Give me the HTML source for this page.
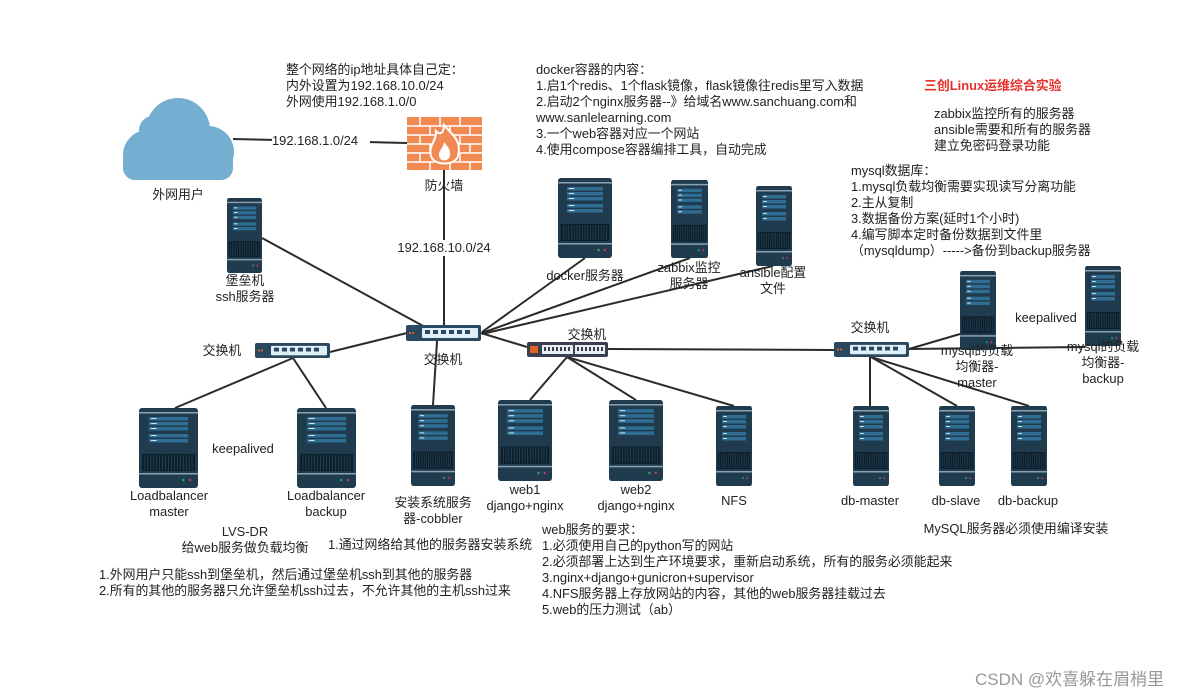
<!DOCTYPE html>
<html><head><meta charset="utf-8"><style>
html,body{margin:0;padding:0;background:#fff;}
svg{display:block;}
text{font-family:"Liberation Sans","Noto Sans CJK SC",sans-serif;font-size:12.9px;fill:#222;}
.c{text-anchor:middle;}
</style></head><body>
<svg width="1202" height="698" viewBox="0 0 1202 698" xmlns="http://www.w3.org/2000/svg">
<defs>
<symbol id="srv" viewBox="0 0 60 80" preserveAspectRatio="none">
<rect x="0" y="0" width="60" height="80" rx="3" fill="#1f3b4d"/>
<rect x="0" y="4" width="60" height="1.5" fill="#8aa3b2"/>
<rect x="10" y="9" width="40" height="3.5" fill="#2f6d93"/>
<rect x="10" y="14" width="40" height="3.5" fill="#2f6d93"/>
<rect x="10" y="19" width="40" height="3.5" fill="#2f6d93"/>
<rect x="10" y="26" width="40" height="3.5" fill="#2f6d93"/>
<rect x="10" y="31" width="40" height="3.5" fill="#2f6d93"/>
<g fill="#cfe3ef"><rect x="12" y="10" width="6" height="1"/><rect x="12" y="15" width="6" height="1"/><rect x="12" y="20" width="6" height="1"/><rect x="12" y="27" width="6" height="1"/><rect x="12" y="32" width="6" height="1"/></g>
<rect x="3" y="46" width="54" height="17" fill="#0d1f2b"/>
<g stroke="#2a4a5e" stroke-width="0.8"><path d="M6 47V62M9 47V62M12 47V62M15 47V62M18 47V62M21 47V62M24 47V62M27 47V62M30 47V62M33 47V62M36 47V62M39 47V62M42 47V62M45 47V62M48 47V62M51 47V62M54 47V62"/></g>
<rect x="0" y="65" width="60" height="1.5" fill="#8aa3b2"/>
<circle cx="45" cy="72" r="1.3" fill="#2ea56a"/><circle cx="52" cy="72" r="1.3" fill="#c23b5a"/>
</symbol>
<symbol id="sw" viewBox="0 0 75 16" preserveAspectRatio="none">
<rect x="0" y="0" width="75" height="16" rx="2" fill="#2a4860"/>
<rect x="3" y="7" width="2" height="2" fill="#e0612a"/><rect x="6" y="7" width="2" height="2" fill="#e0612a"/>
<rect x="16" y="3" width="56" height="10" rx="1" fill="#dfeef7"/>
<g fill="#2a4860"><rect x="19" y="5" width="5" height="4"/><rect x="27" y="5" width="5" height="4"/><rect x="35" y="5" width="5" height="4"/><rect x="43" y="5" width="5" height="4"/><rect x="51" y="5" width="5" height="4"/><rect x="59" y="5" width="5" height="4"/></g>
</symbol>
<symbol id="sw2" viewBox="0 0 81 15" preserveAspectRatio="none">
<rect x="0" y="0" width="81" height="15" rx="2" fill="#3a3f4e"/>
<rect x="3" y="4" width="8" height="7" fill="#e0612a"/>
<rect x="15" y="3" width="31" height="9" fill="#e8eef2"/><rect x="48" y="3" width="30" height="9" fill="#e8eef2"/>
<g fill="#3a3f4e"><rect x="17" y="5" width="2" height="4"/><rect x="21" y="5" width="2" height="4"/><rect x="25" y="5" width="2" height="4"/><rect x="29" y="5" width="2" height="4"/><rect x="33" y="5" width="2" height="4"/><rect x="37" y="5" width="2" height="4"/><rect x="41" y="5" width="2" height="4"/>
<rect x="50" y="5" width="2" height="4"/><rect x="54" y="5" width="2" height="4"/><rect x="58" y="5" width="2" height="4"/><rect x="62" y="5" width="2" height="4"/><rect x="66" y="5" width="2" height="4"/><rect x="70" y="5" width="2" height="4"/><rect x="74" y="5" width="2" height="4"/></g>
</symbol>
</defs>

<g stroke="#2b2b2b" stroke-width="2" fill="none">
<path d="M233 139L407 143"/>
<path d="M444 170V325"/>
<path d="M262 238L425 327"/>
<path d="M585 258L482 332"/>
<path d="M690 258L482 333"/>
<path d="M773 266L482 334"/>
<path d="M407 333L330 352"/>
<path d="M481 333L527 347"/>
<path d="M437 341L433 405"/>
<path d="M293 358L175 408"/>
<path d="M293 358L326 408"/>
<path d="M567 357L530 400"/>
<path d="M567 357L636 400"/>
<path d="M567 357L734 406"/>
<path d="M608 349L834 350"/>
<path d="M870 357V406"/>
<path d="M871 357L957 406"/>
<path d="M871 357L1029 406"/>
<path d="M909 349L960 334"/>
<path d="M909 349L1085 347"/>
</g>

<g fill="#74aed0">
<circle cx="148" cy="155" r="25"/><circle cx="178" cy="130" r="32"/><circle cx="208" cy="152" r="26"/><circle cx="153" cy="130" r="14"/>
<rect x="123" y="150" width="110" height="30" rx="12"/>
</g>
<text class="c" x="178" y="199">外网用户</text>

<rect x="272" y="132" width="98" height="16" fill="#fff"/>
<text x="272" y="145">192.168.1.0/24</text>

<rect x="407" y="117" width="75" height="53" fill="#f08a52"/>
<g stroke="#fff" stroke-width="1.5"><path d="M407 126H482M407 135H482M407 144H482M407 153H482M407 162H482"/>
<path d="M420 117V126M440 117V126M460 117V126M430 126V135M450 126V135M470 126V135M420 135V144M460 135V144M430 144V153M470 144V153M420 153V162M460 153V162M430 162V170M450 162V170M470 162V170"/></g>
<path d="M444 125C452 135 462 140 458 156C455 166 434 166 431 156C428 146 437 140 436 131C441 136 444 132 444 125Z" fill="#f08a52" stroke="#fff" stroke-width="2"/>
<path d="M444 142C449 148 452 152 449 158C446 162 440 161 439 156C438 151 443 149 444 142Z" fill="#fff"/>
<text class="c" x="444" y="190">防火墙</text>
<rect x="398" y="240" width="92" height="16" fill="#fff"/>
<text class="c" x="444" y="252">192.168.10.0/24</text>

<use href="#srv" x="227" y="198" width="35" height="75"/>
<use href="#srv" x="558" y="178" width="54" height="80"/>
<use href="#srv" x="671" y="180" width="37" height="78"/>
<use href="#srv" x="756" y="186" width="36" height="80"/>
<use href="#srv" x="139" y="408" width="59" height="80"/>
<use href="#srv" x="297" y="408" width="59" height="80"/>
<use href="#srv" x="411" y="405" width="44" height="81"/>
<use href="#srv" x="498" y="400" width="54" height="81"/>
<use href="#srv" x="609" y="400" width="54" height="81"/>
<use href="#srv" x="716" y="406" width="36" height="80"/>
<use href="#srv" x="853" y="406" width="36" height="80"/>
<use href="#srv" x="939" y="406" width="36" height="80"/>
<use href="#srv" x="1011" y="406" width="36" height="80"/>
<use href="#srv" x="960" y="271" width="36" height="79"/>
<use href="#srv" x="1085" y="266" width="36" height="80"/>

<use href="#sw" x="406" y="325" width="75" height="16"/>
<use href="#sw" x="255" y="343" width="75" height="15"/>
<use href="#sw2" x="527" y="342" width="81" height="15"/>
<use href="#sw" x="834" y="342" width="75" height="15"/>

<text class="c" x="245" y="285">堡垒机</text>
<text class="c" x="245" y="301">ssh服务器</text>
<text class="c" x="443" y="364">交换机</text>
<text class="c" x="222" y="355">交换机</text>
<text class="c" x="587" y="339">交换机</text>
<text class="c" x="870" y="332">交换机</text>
<text class="c" x="585" y="280">docker服务器</text>
<text class="c" x="689" y="272">zabbix监控</text>
<text class="c" x="689" y="288">服务器</text>
<text class="c" x="773" y="277">ansible配置</text>
<text class="c" x="773" y="293">文件</text>
<text class="c" x="243" y="453">keepalived</text>
<text class="c" x="169" y="500">Loadbalancer</text>
<text class="c" x="169" y="516">master</text>
<text class="c" x="326" y="500">Loadbalancer</text>
<text class="c" x="326" y="516">backup</text>
<text class="c" x="433" y="507">安装系统服务</text>
<text class="c" x="433" y="523">器-cobbler</text>
<text class="c" x="525" y="494">web1</text>
<text class="c" x="525" y="510">django+nginx</text>
<text class="c" x="636" y="494">web2</text>
<text class="c" x="636" y="510">django+nginx</text>
<text class="c" x="734" y="505">NFS</text>
<text class="c" x="870" y="505">db-master</text>
<text class="c" x="956" y="505">db-slave</text>
<text class="c" x="1028" y="505">db-backup</text>
<text class="c" x="977" y="355">mysql的负载</text>
<text class="c" x="977" y="371">均衡器-</text>
<text class="c" x="977" y="387">master</text>
<text class="c" x="1103" y="351">mysql的负载</text>
<text class="c" x="1103" y="367">均衡器-</text>
<text class="c" x="1103" y="383">backup</text>
<text class="c" x="1046" y="322">keepalived</text>

<text x="286" y="74">整个网络的ip地址具体自己定：</text>
<text x="286" y="90">内外设置为192.168.10.0/24</text>
<text x="286" y="106">外网使用192.168.1.0/0</text>

<text x="536" y="74">docker容器的内容：</text>
<text x="536" y="90">1.启1个redis、1个flask镜像，flask镜像往redis里写入数据</text>
<text x="536" y="106">2.启动2个nginx服务器--》给域名www.sanchuang.com和</text>
<text x="536" y="122">www.sanlelearning.com</text>
<text x="536" y="138">3.一个web容器对应一个网站</text>
<text x="536" y="154">4.使用compose容器编排工具，自动完成</text>

<text x="924" y="90" style="fill:#e8302a;font-weight:bold;">三创Linux运维综合实验</text>
<text x="934" y="118">zabbix监控所有的服务器</text>
<text x="934" y="134">ansible需要和所有的服务器</text>
<text x="934" y="150">建立免密码登录功能</text>

<text x="851" y="175">mysql数据库：</text>
<text x="851" y="191">1.mysql负载均衡需要实现读写分离功能</text>
<text x="851" y="207">2.主从复制</text>
<text x="851" y="223">3.数据备份方案(延时1个小时)</text>
<text x="851" y="239">4.编写脚本定时备份数据到文件里</text>
<text x="851" y="255">（mysqldump）-----&gt;备份到backup服务器</text>

<text class="c" x="245" y="536">LVS-DR</text>
<text class="c" x="245" y="552">给web服务做负载均衡</text>
<text x="328" y="549">1.通过网络给其他的服务器安装系统</text>
<text x="99" y="579">1.外网用户只能ssh到堡垒机，然后通过堡垒机ssh到其他的服务器</text>
<text x="99" y="595">2.所有的其他的服务器只允许堡垒机ssh过去，不允许其他的主机ssh过来</text>

<text x="542" y="534">web服务的要求：</text>
<text x="542" y="550">1.必须使用自己的python写的网站</text>
<text x="542" y="566">2.必须部署上达到生产环境要求，重新启动系统，所有的服务必须能起来</text>
<text x="542" y="582">3.nginx+django+gunicron+supervisor</text>
<text x="542" y="598">4.NFS服务器上存放网站的内容，其他的web服务器挂载过去</text>
<text x="542" y="614">5.web的压力测试（ab）</text>

<text class="c" x="1016" y="533">MySQL服务器必须使用编译安装</text>
<text x="975" y="685" style="fill:#999;font-size:17px;">CSDN @欢喜躲在眉梢里</text>
</svg>
</body></html>
